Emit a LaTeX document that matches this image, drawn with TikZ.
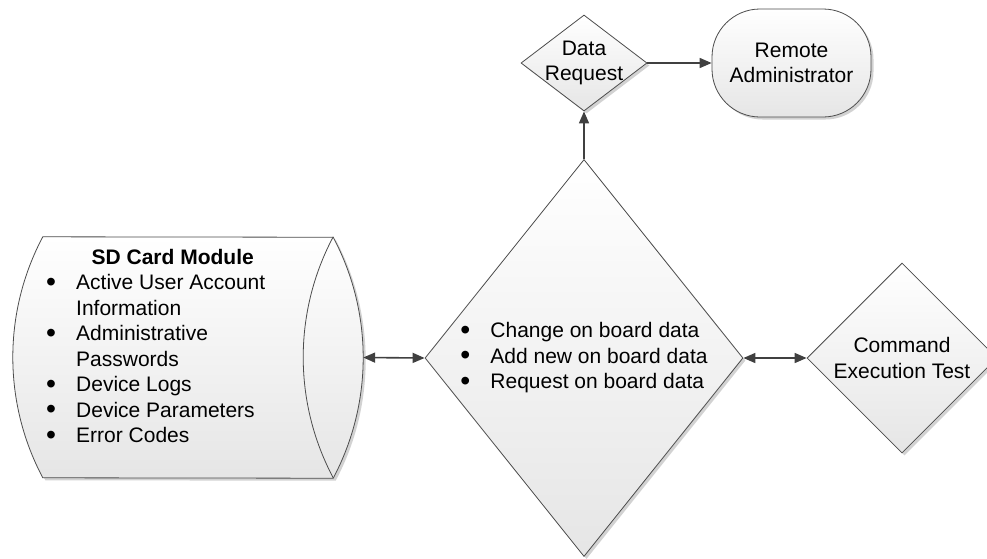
\documentclass[tikz,border=0pt]{standalone}
\usepackage{fontspec}
\setmainfont{Liberation Sans}
\usetikzlibrary{shapes.geometric,shadows,arrows.meta,positioning}
\begin{document}
\begin{tikzpicture}[x=1pt,y=-1pt,font=\fontsize{21}{25.5}\selectfont,
  box/.style={draw=black!70,line width=.8pt,top color=white,bottom color=black!10,inner sep=0pt,
    drop shadow={shadow xshift=2.5pt,shadow yshift=-2.5pt,fill=black!35,opacity=.5}},
  dia/.style={box,diamond,align=center},
  link/.style={draw=black!75,line width=1.6pt,-{Triangle[length=12pt,width=10pt]}},
  both/.style={draw=black!75,line width=1.6pt,{Triangle[length=12pt,width=10pt]}-{Triangle[length=12pt,width=10pt]}}]
\useasboundingbox (0,0) rectangle (987,558);
\newcommand\itm[1]{\makebox[30pt][l]{\raisebox{-.06em}{\scalebox{1.35}{\textbullet}}}#1}
% sd card drum
\node[minimum width=350pt,minimum height=241pt,inner sep=0pt] (sd) at (188,357.5) {};
\path[box] ([xshift=30pt]sd.north west) arc[start angle=152.04,end angle=207.96,radius=257pt]
  -- ([xshift=-30pt]sd.south east) arc[start angle=-27.96,end angle=27.96,radius=257pt] -- cycle;
\draw[black!70,line width=.8pt] ([xshift=-30pt]sd.north east) arc[start angle=152.04,end angle=207.96,radius=257pt];
\node[align=left,anchor=north west,inner sep=0pt] (sdlist) at (46,249) {\makebox[253pt]{\bfseries SD Card Module}\\
  \itm{Active User Account}\\ \hspace*{30pt}Information\\ \itm{Administrative}\\ \hspace*{30pt}Passwords\\
  \itm{Device Logs}\\ \itm{Device Parameters}\\ \itm{Error Codes}};
% other shapes
\node[dia,align=left,minimum width=318pt,minimum height=397pt] (board) at (584,358)
  {\itm{Change on board data}\\ \itm{Add new on board data}\\ \itm{Request on board data}};
\node[dia,minimum width=190pt,minimum height=190pt] (cmd) at (902,358) {Command\\Execution Test};
\node[dia,inner sep=-12pt,minimum width=126pt,minimum height=96pt] (req) at (584,63) {Data\\Request};
\node[box,rounded corners=48pt,align=center,minimum width=159pt,minimum height=108pt] (admin) at (791.5,63) {Remote\\Administrator};
% connectors
\draw[both] (sd.east) -- (board.west);
\draw[both] (board.east) -- (cmd.west);
\draw[link] (board.north) -- (req.south);
\draw[link] (req.east) -- (admin.west);
\end{tikzpicture}
\end{document}
